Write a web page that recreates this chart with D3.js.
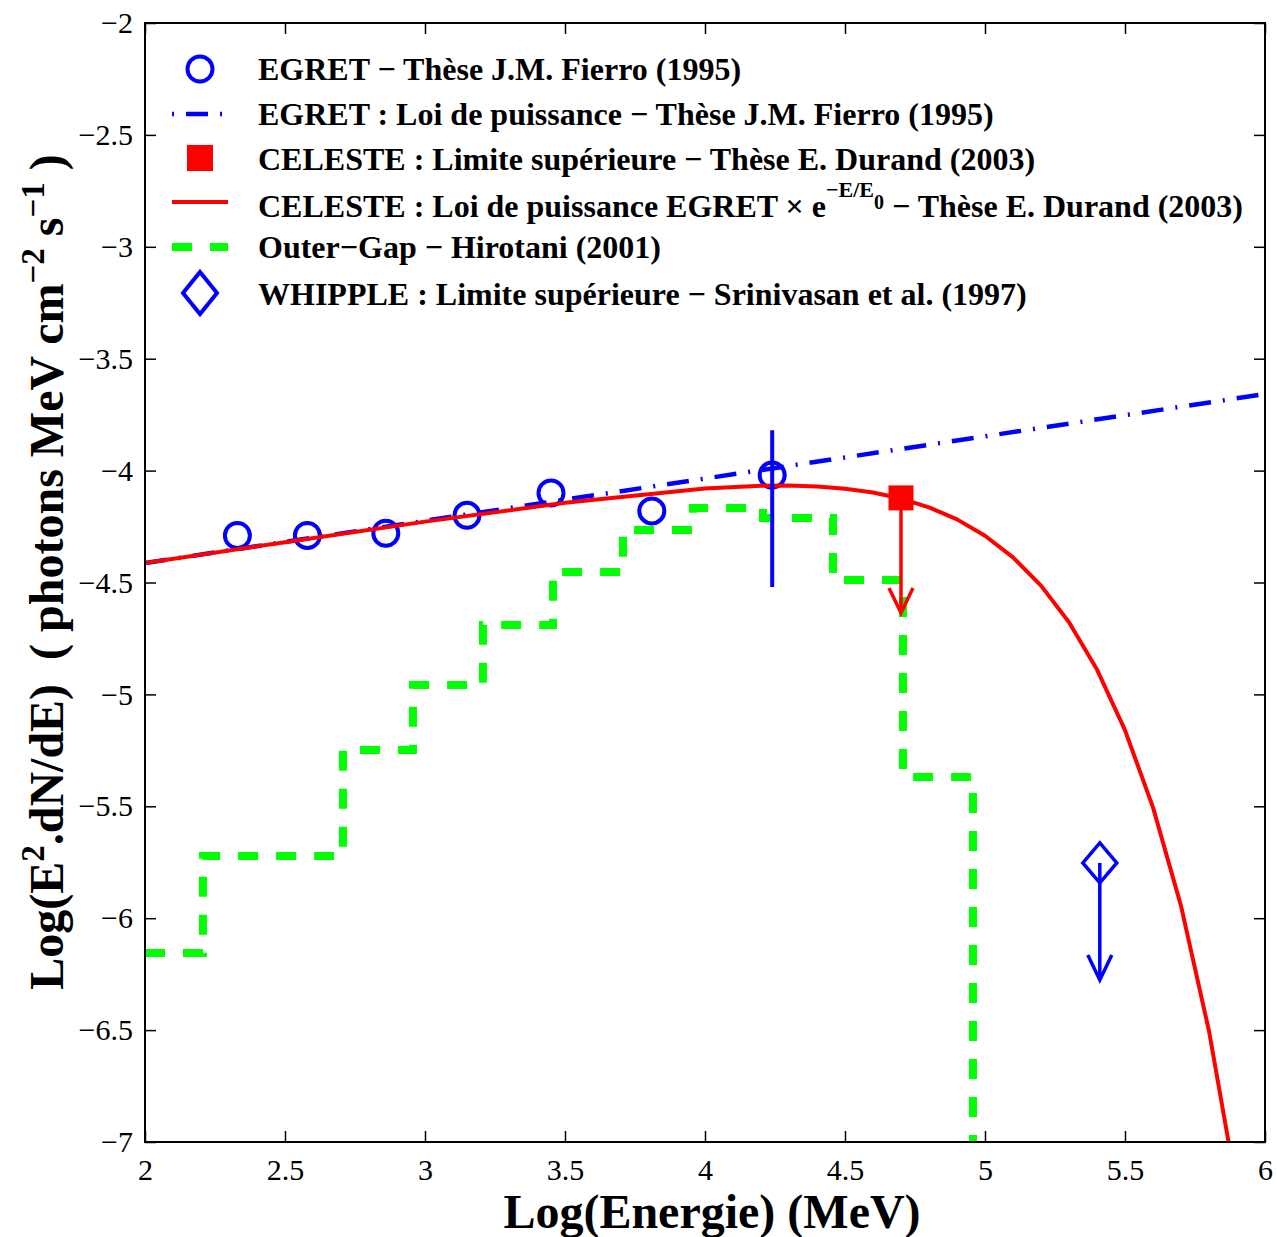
<!DOCTYPE html>
<html>
<head>
<meta charset="utf-8">
<script src="https://cdn.jsdelivr.net/npm/d3@7"></script>
<style>
  html, body { margin: 0; padding: 0; background: #fff; }
  svg { display: block; }
  text { font-family: "Liberation Serif", "Times New Roman", serif; }
</style>
</head>
<body>
<script>
// ---------------- DATA ----------------
// EGRET points (Fierro 1995)
const egretX = [2.33, 2.58, 2.86, 3.15, 3.45, 3.81, 4.24];
const egretY = [-4.29, -4.29, -4.28, -4.20, -4.10, -4.18, -4.02];
// error bar on the last EGRET point
const egretErrX = [4.24];
const egretErrLow = [-4.52];
const egretErrHigh = [-3.82];

// EGRET power law (dash-dot)
const plX = [2.0, 6.0];
const plY = [-4.413, -3.658];

// CELESTE power law with exponential cutoff
const cutX = [2.0, 2.5, 3.0, 3.5, 4.0, 4.2, 4.3, 4.4, 4.5, 4.6, 4.7, 4.8, 4.9, 5.0, 5.1, 5.2, 5.3, 5.4, 5.5, 5.6, 5.7, 5.8, 5.9];
const cutY = [-4.413, -4.320, -4.228, -4.144, -4.080, -4.068, -4.067, -4.071, -4.081, -4.098, -4.125, -4.164, -4.218, -4.291, -4.388, -4.514, -4.678, -4.889, -5.160, -5.505, -5.945, -6.504, -7.213];

// CELESTE upper limit
const celesteX = [4.70];
const celesteY = [-4.122];
const celesteArrowTo = [-4.636];

// Outer-Gap (Hirotani 2001) step spectrum
const gapEdges = [2.0, 2.207, 2.707, 2.957, 3.207, 3.457, 3.707, 3.957, 4.207, 4.457, 4.707, 4.957];
const gapLevels = [-6.155, -5.722, -5.248, -4.958, -4.690, -4.453, -4.265, -4.167, -4.212, -4.489, -5.369];
const gapFloor = -7.4;

// WHIPPLE upper limit
const whippleX = [5.41];
const whippleY = [-5.753];
const whippleArrowTo = [-6.276];

// axes ticks
const xTicks = [2, 2.5, 3, 3.5, 4, 4.5, 5, 5.5, 6];
const xTickLabels = ["2", "2.5", "3", "3.5", "4", "4.5", "5", "5.5", "6"];
const yTicks = [-7, -6.5, -6, -5.5, -5, -4.5, -4, -3.5, -3, -2.5, -2];
const yTickLabels = ["\u22127", "\u22126.5", "\u22126", "\u22125.5", "\u22125", "\u22124.5", "\u22124", "\u22123.5", "\u22123", "\u22122.5", "\u22122"];

// legend labels
const legendLabels = [
  "EGRET \u2212 Th\u00e8se J.M. Fierro (1995)",
  "EGRET : Loi de puissance \u2212 Th\u00e8se J.M. Fierro (1995)",
  "CELESTE : Limite sup\u00e9rieure \u2212 Th\u00e8se E. Durand (2003)",
  "CELESTE : Loi de puissance EGRET \u00d7 e",
  "Outer\u2212Gap \u2212 Hirotani (2001)",
  "WHIPPLE : Limite sup\u00e9rieure \u2212 Srinivasan et al. (1997)"
];

// ---------------- LAYOUT ----------------
const W = 1277, H = 1237;
const X0 = 145, X1 = 1265, Y0 = 23, Y1 = 1142;
const BLUE = "#0000ff", RED = "#ff0000", GREEN = "#00ff00";
const SERIF = "'Liberation Serif', 'Times New Roman', serif";

const svg = d3.select("body").append("svg").attr("width", W).attr("height", H);
svg.append("rect").attr("width", W).attr("height", H).attr("fill", "#fff");

const x = d3.scaleLinear().domain([2, 6]).range([X0, X1]);
const y = d3.scaleLinear().domain([-7, -2]).range([Y1, Y0]);

svg.append("defs").append("clipPath").attr("id", "clip")
  .append("rect").attr("x", X0).attr("y", Y0).attr("width", X1 - X0).attr("height", Y1 - Y0);

const plot = svg.append("g").attr("clip-path", "url(#clip)");
const line = d3.line().x(d => x(d[0])).y(d => y(d[1]));

// Outer-Gap steps
const gapPts = gapLevels.map((v, i) => [gapEdges[i], v]);
gapPts.push([gapEdges[gapEdges.length - 1], gapLevels[gapLevels.length - 1]]);
gapPts.push([gapEdges[gapEdges.length - 1], gapFloor]);
plot.append("path").datum(gapPts)
  .attr("d", d3.line().x(d => x(d[0])).y(d => y(d[1])).curve(d3.curveStepAfter))
  .attr("fill", "none").attr("stroke", GREEN).attr("stroke-width", 8)
  .attr("stroke-dasharray", "20,18");

// EGRET circles
plot.selectAll("circle.egret").data(egretX.map((v, i) => [v, egretY[i]]))
  .enter().append("circle").attr("class", "egret")
  .attr("cx", d => x(d[0])).attr("cy", d => y(d[1])).attr("r", 12.5)
  .attr("fill", "none").attr("stroke", BLUE).attr("stroke-width", 4);

// power law dash-dot
plot.append("path").datum(plX.map((v, i) => [v, plY[i]]))
  .attr("d", line).attr("fill", "none").attr("stroke", BLUE).attr("stroke-width", 4.5)
  .attr("stroke-dasharray", "22,12,2,12");

// cutoff curve
plot.append("path").datum(cutX.map((v, i) => [v, cutY[i]]))
  .attr("d", line).attr("fill", "none").attr("stroke", RED).attr("stroke-width", 4)
  .attr("stroke-linejoin", "round");

// error bar
egretErrX.forEach((v, i) => {
  plot.append("line").attr("x1", x(v)).attr("x2", x(v))
    .attr("y1", y(egretErrHigh[i])).attr("y2", y(egretErrLow[i]))
    .attr("stroke", BLUE).attr("stroke-width", 4);
});

// CELESTE upper limit: square + arrow
celesteX.forEach((v, i) => {
  const cx = x(v), cy = y(celesteY[i]), ty = y(celesteArrowTo[i]);
  plot.append("line").attr("x1", cx).attr("x2", cx).attr("y1", cy).attr("y2", ty)
    .attr("stroke", RED).attr("stroke-width", 3.5);
  plot.append("path").attr("d", `M${cx - 12},${ty - 25}L${cx},${ty}L${cx + 12},${ty - 25}`)
    .attr("fill", "none").attr("stroke", RED).attr("stroke-width", 3.5);
  plot.append("rect").attr("x", cx - 12.5).attr("y", cy - 12.5).attr("width", 25).attr("height", 25)
    .attr("fill", RED);
});

// WHIPPLE upper limit: diamond + arrow
whippleX.forEach((v, i) => {
  const cx = x(v), cy = y(whippleY[i]), ty = y(whippleArrowTo[i]);
  plot.append("line").attr("x1", cx).attr("x2", cx).attr("y1", cy).attr("y2", ty)
    .attr("stroke", BLUE).attr("stroke-width", 3.5);
  plot.append("path").attr("d", `M${cx - 12},${ty - 25}L${cx},${ty}L${cx + 12},${ty - 25}`)
    .attr("fill", "none").attr("stroke", BLUE).attr("stroke-width", 3.5);
  plot.append("path").attr("d", `M${cx},${cy - 20}L${cx + 17},${cy}L${cx},${cy + 20}L${cx - 17},${cy}Z`)
    .attr("fill", "none").attr("stroke", BLUE).attr("stroke-width", 3.5);
});

// ---------------- AXES ----------------
const fmtX = d => xTickLabels[xTicks.indexOf(d)];
const fmtY = d => yTickLabels[yTicks.indexOf(d)];

const gB = svg.append("g").attr("transform", `translate(0,${Y1})`)
  .call(d3.axisBottom(x).tickValues(xTicks).tickFormat(fmtX).tickSizeInner(-11).tickSizeOuter(0).tickPadding(17));
const gT = svg.append("g").attr("transform", `translate(0,${Y0})`)
  .call(d3.axisTop(x).tickValues(xTicks).tickFormat("").tickSizeInner(-11).tickSizeOuter(0));
const gL = svg.append("g").attr("transform", `translate(${X0},0)`)
  .call(d3.axisLeft(y).tickValues(yTicks).tickFormat(fmtY).tickSizeInner(-11).tickSizeOuter(0).tickPadding(12));
const gR = svg.append("g").attr("transform", `translate(${X1},0)`)
  .call(d3.axisRight(y).tickValues(yTicks).tickFormat("").tickSizeInner(-11).tickSizeOuter(0));

[gB, gT, gL, gR].forEach(g => {
  g.attr("font-family", SERIF).attr("font-size", 30);
  g.select(".domain").remove();
  g.selectAll(".tick line").attr("stroke", "#000").attr("stroke-width", 1.5);
  g.selectAll(".tick text").attr("fill", "#000");
});

svg.append("rect").attr("x", X0).attr("y", Y0).attr("width", X1 - X0).attr("height", Y1 - Y0)
  .attr("fill", "none").attr("stroke", "#000").attr("stroke-width", 2);

// axis labels
svg.append("text").attr("x", 712).attr("y", 1228)
  .attr("text-anchor", "middle").attr("font-weight", "bold").attr("font-size", 48)
  .text("Log(Energie) (MeV)");

const yl = svg.append("text").attr("transform", "translate(63,572) rotate(-90)")
  .attr("text-anchor", "middle").attr("font-weight", "bold").attr("font-size", 48)
  .style("white-space", "pre");
yl.append("tspan").text("Log(E");
yl.append("tspan").attr("dy", -19).attr("font-size", 33).text("2");
yl.append("tspan").attr("dy", 19).text(".dN/dE)  ( photons MeV cm");
yl.append("tspan").attr("dy", -19).attr("font-size", 33).text("\u22122");
yl.append("tspan").attr("dy", 19).text(" s");
yl.append("tspan").attr("dy", -19).attr("font-size", 33).text("\u22121");
yl.append("tspan").attr("dy", 19).text(" )");

// ---------------- LEGEND ----------------
const legCY = [69, 114, 158, 202, 247, 293];
const legBase = [80, 125, 170, 217, 258, 305];
const LX = 200, TX = 258;
const leg = svg.append("g");

leg.append("circle").attr("cx", LX).attr("cy", legCY[0]).attr("r", 12.5)
  .attr("fill", "none").attr("stroke", BLUE).attr("stroke-width", 4);
leg.append("line").attr("x1", 172).attr("x2", 222).attr("y1", legCY[1]).attr("y2", legCY[1])
  .attr("stroke", BLUE).attr("stroke-width", 4.5).attr("stroke-dasharray", "2,12,22,12");
leg.append("rect").attr("x", LX - 13).attr("y", legCY[2] - 13).attr("width", 26).attr("height", 26).attr("fill", RED);
leg.append("line").attr("x1", 172).attr("x2", 228).attr("y1", legCY[3]).attr("y2", legCY[3])
  .attr("stroke", RED).attr("stroke-width", 4);
leg.append("line").attr("x1", 172).attr("x2", 228).attr("y1", legCY[4]).attr("y2", legCY[4])
  .attr("stroke", GREEN).attr("stroke-width", 8).attr("stroke-dasharray", "20,18");
leg.append("path").attr("d", `M${LX},${legCY[5] - 21}L${LX + 17},${legCY[5]}L${LX},${legCY[5] + 21}L${LX - 17},${legCY[5]}Z`)
  .attr("fill", "none").attr("stroke", BLUE).attr("stroke-width", 4);

legendLabels.forEach((t, i) => {
  const tx = leg.append("text").attr("x", TX).attr("y", legBase[i])
    .attr("font-weight", "bold").attr("font-size", 32).style("white-space", "pre");
  tx.append("tspan").text(t);
  if (i === 3) {
    tx.append("tspan").attr("dy", -20).attr("font-size", 22).text("\u2212E/E");
    tx.append("tspan").attr("dy", 12).attr("font-size", 20).text("0");
    tx.append("tspan").attr("dy", 8).attr("font-size", 32).text(" \u2212 Th\u00e8se E. Durand (2003)");
  }
});
</script>
</body>
</html>
